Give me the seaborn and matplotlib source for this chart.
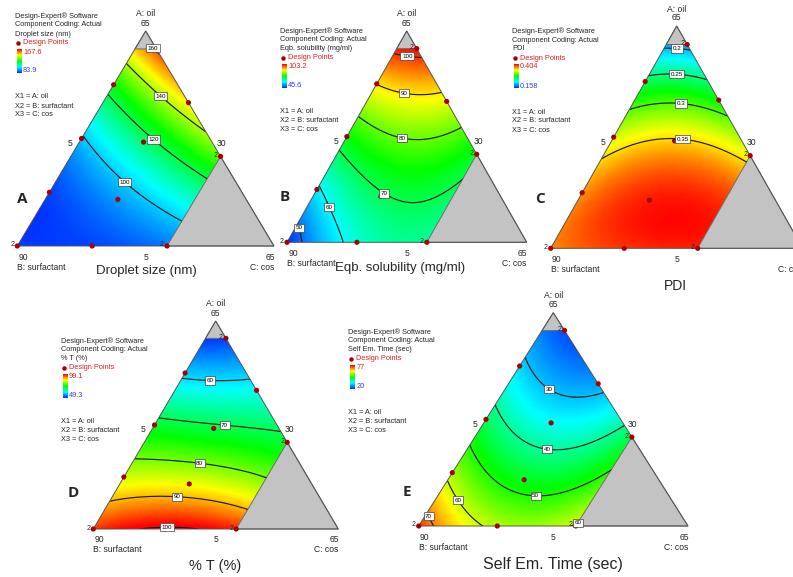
import numpy as np
import pandas as pd
import matplotlib
matplotlib.use("Agg")
import matplotlib.pyplot as plt
import matplotlib.tri as mtri
from matplotlib.colors import LinearSegmentedColormap
from matplotlib.patches import Polygon
import seaborn as sns

# mixture design points (actual %), same design for all five responses
oil = [60, 45, 30, 5, 5, 5, 20, 35, 50, 34, 18]
surfactant = [30, 30, 30, 55, 72.5, 90, 75, 60, 45, 46, 60]
cos = [10, 25, 40, 40, 22.5, 5, 5, 5, 5, 20, 22]
replicated = [0, 2, 3, 5]

# responses at the design points
droplet_size = [163, 147, 133, 92, 86, 84, 88, 99, 123, 118, 93]
solubility = [102, 89, 71, 67, 61, 45.6, 59, 74, 90, 80, 69]
pdi = [0.19, 0.28, 0.34, 0.395, 0.39, 0.37, 0.37, 0.33, 0.26, 0.35, 0.40]
transmittance = [50, 62, 72, 97, 101, 96, 85, 71, 59, 71, 86]
em_time = [21, 29, 44, 61, 58, 75, 57, 43, 33, 35, 47]

# legend colour ranges
droplet_range = [83.9, 167.6]
solubility_range = [45.6, 103.2]
pdi_range = [0.158, 0.404]
transmittance_range = [49.3, 99.1]
em_time_range = [20, 77]

# contour levels
droplet_levels = [100, 120, 140, 160]
solubility_levels = [50, 60, 70, 80, 90, 100]
pdi_levels = [0.2, 0.25, 0.3, 0.35]
transmittance_levels = [60, 70, 80, 90, 100]
em_time_levels = [30, 40, 50, 60, 70]

# component limits
low = [5, 30, 5]
oil_max, cos_max = 60, 40

sns.set_theme(style="white")
plt.rcParams['font.family'] = ['Liberation Sans', 'DejaVu Sans']

panels = [
    dict(letter='A', name='Droplet size (nm)', resp=droplet_size, rng=droplet_range,
         levels=droplet_levels, B=(17.3, 246), A=(145.7, 31), C=(274, 246),
         txt=(15, 16), letter_at=(22, 199), title_at=(146, 271), title_size=9.5,
         lab=[(130, 174), (157, 134), (160, 97), (153, 48)]),
    dict(letter='B', name='Eqb. solubility (mg/ml)', resp=solubility, rng=solubility_range,
         levels=solubility_levels, B=(287, 242.3), A=(406.7, 31), C=(526.7, 242.3),
         txt=(280, 30.7), letter_at=(285, 197), title_at=(400, 268), title_size=9.5,
         lab=[(297, 228), (331, 207), (391, 190), (404, 135), (404, 94), (407, 57)]),
    dict(letter='C', name='PDI', resp=pdi, rng=pdi_range,
         levels=pdi_levels, B=(550.7, 248.3), A=(676.7, 26), C=(802.7, 248.3),
         txt=(512, 31), letter_at=(540, 199), title_at=(675, 286), title_size=10,
         lab=[(677, 47.7), (677.7, 71.7), (681.7, 102.3), (681.7, 140.7)]),
    dict(letter='D', name='% T (%)', resp=transmittance, rng=transmittance_range,
         levels=transmittance_levels, B=(93.3, 529), A=(215.7, 321), C=(338.3, 529),
         txt=(60.7, 340.7), letter_at=(73, 493), title_at=(215, 566), title_size=10.5,
         lab=[(210, 377), (225, 422), (200.7, 457), (178, 489), (167, 518)]),
    dict(letter='E', name='Self Em. Time (sec)', resp=em_time, rng=em_time_range,
         levels=em_time_levels, B=(418.7, 526), A=(553.3, 312.7), C=(688, 526),
         txt=(348.3, 331.7), letter_at=(407, 492), title_at=(553, 564), title_size=11.5,
         lab=[(548, 391), (546.7, 450.7), (535.7, 494), (456.7, 501), (426.7, 516.7), (573.3, 515)]),
]


def pseudo(o, s, c):
    return ((np.asarray(o, float) - low[0]) / 60, (np.asarray(s, float) - low[1]) / 60,
            (np.asarray(c, float) - low[2]) / 60)


def terms(a, b, c):
    return np.column_stack([a, b, c, a * b, a * c, b * c, a * b * c])


cmap = LinearSegmentedColormap.from_list(
    'de', ['#0033ff', '#00ffff', '#00ff00', '#ffff00', '#ff0000'])

a_pts, b_pts, c_pts = pseudo(oil, surfactant, cos)
X = terms(a_pts, b_pts, c_pts)

n = 120
ii, jj = np.meshgrid(np.arange(n + 1), np.arange(n + 1))
keep = ii + jj <= n
ga = ii[keep] / n
gc = jj[keep] / n
gb = 1 - ga - gc
G = terms(ga, gb, gc)

a_max = (oil_max - low[0]) / 60
c_max = (cos_max - low[2]) / 60

fig = plt.figure(figsize=(7.93, 5.77), dpi=100)
ax = fig.add_axes([0, 0, 1, 1])

small = 5.3
tick = 6.2

for p in panels:
    Bv, Av, Cv = np.array(p['B']), np.array(p['A']), np.array(p['C'])

    def xy(a, c):
        a = np.asarray(a, float)
        c = np.asarray(c, float)
        return (Bv[0] + a * (Av[0] - Bv[0]) + c * (Cv[0] - Bv[0]),
                Bv[1] + a * (Av[1] - Bv[1]) + c * (Cv[1] - Bv[1]))

    def poly(pairs):
        return np.column_stack(xy([q[0] for q in pairs], [q[1] for q in pairs]))

    coef, *_ = np.linalg.lstsq(X, np.array(p['resp'], float), rcond=None)
    z = G @ coef
    gx, gy = xy(ga, gc)
    tri = mtri.Triangulation(gx, gy)

    feas = Polygon(poly([(0, 0), (0, c_max), (1 - c_max, c_max), (a_max, 1 - a_max), (a_max, 0)]),
                   closed=True, fc='none', ec='none', transform=ax.transData)
    ax.add_patch(feas)

    lo, hi = p['rng']
    tp = ax.tripcolor(tri, z, shading='gouraud', cmap=cmap, vmin=lo, vmax=hi, zorder=1)
    tp.set_clip_path(feas)

    # grey excluded regions
    for pr in ([(a_max, 0), (1, 0), (a_max, 1 - a_max)], [(0, c_max), (0, 1), (1 - c_max, c_max)]):
        ax.add_patch(Polygon(poly(pr), closed=True, fc='#c3c3c3', ec='#6e6e6e', lw=0.7, zorder=2))

    cl = ax.tricontour(tri, z, levels=p['levels'], colors='#1a1a1a', linewidths=0.85, zorder=3)
    cl.set_clip_path(feas)
    labels = ax.clabel(cl, manual=p['lab'], inline=False, fontsize=4.5, colors='black',
                       fmt=lambda v: f'{v:g}')
    for t in labels:
        t.set_rotation(0)
        t.set_zorder(7)
        t.set_bbox(dict(boxstyle='square,pad=0.25', fc='white', ec='#333333', lw=0.45))

    # outline
    ax.add_patch(Polygon(poly([(0, 0), (1, 0), (0, 1)]), closed=True, fc='none',
                         ec='#555555', lw=0.7, zorder=4))

    # design points
    px, py = xy(a_pts, c_pts)
    pts = pd.DataFrame({'x': px, 'y': py})
    sns.scatterplot(data=pts, x='x', y='y', color='#a80000', s=14, edgecolor='none',
                    ax=ax, zorder=6, legend=False)
    for k in replicated:
        ax.text(px[k] - 3, py[k] - 1, '2', fontsize=5, ha='right', va='center', zorder=6)

    # axis labels on the triangle
    ax.text(Av[0], Av[1] - 17, 'A: oil', fontsize=tick, ha='center', va='center')
    ax.text(Av[0], Av[1] - 8, '65', fontsize=tick, ha='center', va='center')
    ml = (Av + Bv) / 2
    mr = (Av + Cv) / 2
    ax.text(ml[0] - 11, ml[1] + 5, '5', fontsize=tick, ha='center', va='center')
    ax.text(mr[0] + 12, mr[1] + 5, '30', fontsize=tick, ha='center', va='center')
    ax.text((Bv[0] + Cv[0]) / 2, Bv[1] + 11, '5', fontsize=tick, ha='center', va='center')
    ax.text(Bv[0] + 6, Bv[1] + 11, '90', fontsize=tick, ha='center', va='center')
    ax.text(Bv[0], Bv[1] + 21, 'B: surfactant', fontsize=tick, ha='left', va='center')
    ax.text(Cv[0] - 4, Cv[1] + 11, '65', fontsize=tick, ha='center', va='center')
    ax.text(Cv[0], Cv[1] + 21, 'C: cos', fontsize=tick, ha='right', va='center')

    ax.text(*p['letter_at'], p['letter'], fontsize=11, fontweight='bold', ha='center',
            va='center', family=['Open Sans', 'DejaVu Sans'])
    ax.text(*p['title_at'], p['name'], fontsize=p['title_size'], ha='center', va='center')

    # Design-Expert info block
    x0, y0 = p['txt']
    ax.text(x0, y0, 'Design-Expert® Software', fontsize=small, va='center')
    ax.text(x0, y0 + 9, 'Component Coding: Actual', fontsize=small, va='center')
    ax.text(x0, y0 + 18, p['name'], fontsize=small, va='center')
    ax.plot([x0 + 3], [y0 + 27], 'o', color='#a80000', ms=2.2)
    ax.text(x0 + 8, y0 + 27, 'Design Points', fontsize=small, va='center', color='#e02020')
    grad = np.linspace(1, 0, 60)[:, None]
    ax.imshow(grad, extent=(x0 + 2, x0 + 7, y0 + 57, y0 + 33), cmap=cmap, aspect='auto',
              origin='upper', zorder=5)
    ax.text(x0 + 8, y0 + 36, f'{hi:g}', fontsize=small, va='center', color='#e02020')
    ax.text(x0 + 8, y0 + 55, f'{lo:g}', fontsize=small, va='center', color='#3b3bff')
    ax.text(x0, y0 + 81, 'X1 = A: oil', fontsize=small, va='center')
    ax.text(x0, y0 + 90, 'X2 = B: surfactant', fontsize=small, va='center')
    ax.text(x0, y0 + 99, 'X3 = C: cos', fontsize=small, va='center')

ax.set_xlim(0, 793)
ax.set_ylim(577, 0)
ax.axis('off')
fig.savefig('out.png', dpi=100)
